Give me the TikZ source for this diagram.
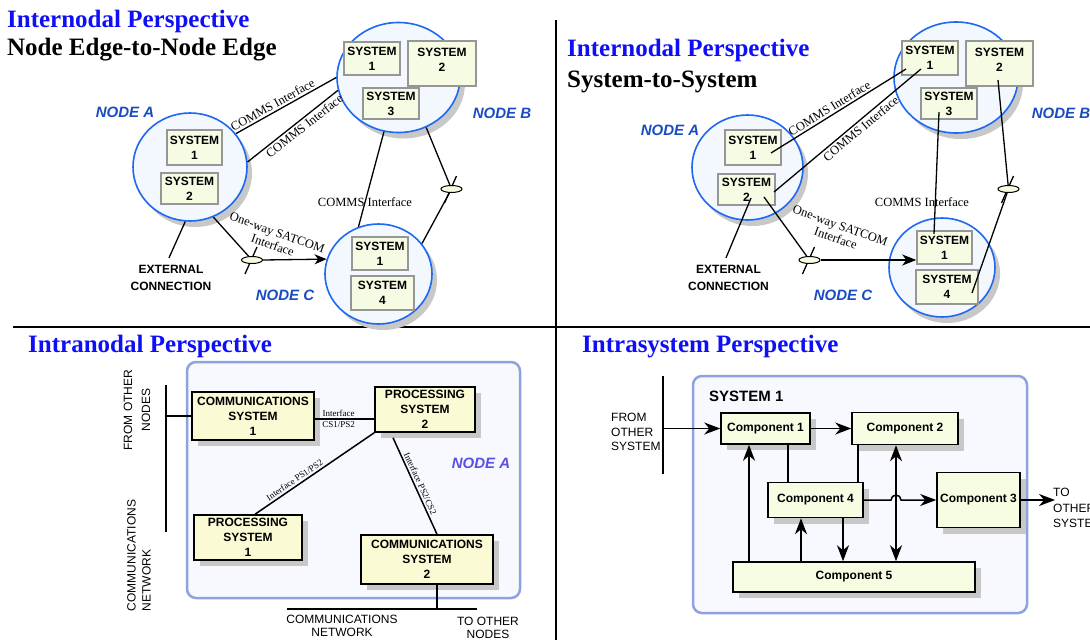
\documentclass[tikz,border=0pt]{standalone}
\usepackage{fontspec}
\setmainfont{Liberation Serif}
\setsansfont{Liberation Sans}
\usetikzlibrary{shapes.geometric,shadows,arrows.meta,calc}
\pgfdeclarelayer{front}
\pgfsetlayers{main,front}
\definecolor{titleblue}{RGB}{15,15,245}
\definecolor{nodeblue}{RGB}{25,75,195}
\definecolor{nodeviolet}{RGB}{90,80,230}
\definecolor{circline}{RGB}{30,105,240}
\definecolor{circfill}{RGB}{243,247,254}
\definecolor{boxline}{RGB}{150,150,150}
\definecolor{boxfill}{RGB}{246,252,228}
\definecolor{ifill}{RGB}{250,250,212}
\definecolor{cfill}{RGB}{245,253,226}
\definecolor{bigline}{RGB}{142,163,222}
\definecolor{bigfill}{RGB}{247,249,254}
\definecolor{symfill}{RGB}{246,250,222}
\definecolor{shade}{RGB}{200,200,200}
\newcommand\myfs[2]{\fontsize{#1}{#2}\selectfont}
\begin{document}
\begin{tikzpicture}[x=1pt,y=-1pt,
  ttl/.style={font=\bfseries\myfs{25}{30}, anchor=base west, inner sep=0},
  nlbl/.style={font=\sffamily\bfseries\itshape\myfs{15}{18}, text=nodeblue, inner sep=0},
  circ/.style={ellipse, draw=circline, line width=1.6pt, fill=circfill, inner sep=0,
     drop shadow={shadow xshift=5pt, shadow yshift=-6pt, fill=shade, opacity=1}},
  sysbox/.style={rectangle, draw=boxline, line width=1.5pt, fill=boxfill, inner sep=0, align=center, font=\sffamily\bfseries\myfs{12}{15}},
  conn/.style={line width=1.3pt},
  conn3/.style={line width=1.5pt},
  lbl/.style={font=\myfs{12.5}{13.5}, inner sep=2pt},
  sym/.style={ellipse, draw, line width=1pt, fill=symfill, minimum width=21pt, minimum height=7pt, inner sep=0},
  arrA/.style={-{Stealth[length=12pt,width=10pt,inset=3.5pt]}},
  arrQ/.style={-{Stealth[length=14pt,width=11pt,inset=4pt]}},
  sans/.style={font=\sffamily\myfs{12}{14.5}, inner sep=0},
  bsans/.style={font=\sffamily\bfseries\myfs{12}{17.5}, inner sep=0, align=center},
  big/.style={rectangle, rounded corners=9pt, draw=bigline, line width=2.5pt, fill=bigfill, inner sep=0},
  ibox/.style={rectangle, draw=black, line width=1.5pt, fill=ifill, inner sep=0, align=center, font=\sffamily\bfseries\myfs{12}{15},
     drop shadow={shadow xshift=6pt, shadow yshift=-6pt, fill=shade, opacity=1}},
  cbox/.style={rectangle, draw=black, line width=1.5pt, fill=cfill, inner sep=0, align=center, font=\sffamily\bfseries\myfs{12}{15},
     drop shadow={shadow xshift=6pt, shadow yshift=-6pt, fill=shade, opacity=1}},
  tiny/.style={font=\myfs{9}{10}, inner sep=2pt},
  arrB/.style={-{Stealth[length=16pt,width=12pt,inset=5pt]}},
  dblB/.style={{Stealth[length=16pt,width=12pt,inset=5pt]}-{Stealth[length=16pt,width=12pt,inset=5pt]}},
  divider/.style={line width=1.5pt}
]
\useasboundingbox (0,0) rectangle (1090,640);
\fill[white] (0,0) rectangle (1090,640);

% dividers
\draw[divider] (556,20) -- (556,640);
\draw[divider] (13,327) -- (1090,327);

% ---------- symbols on front layer ----------
\begin{pgfonlayer}{front}
\node[sym] (e1) at (252,260) {};
\node[sym] (e2) at (451.5,189) {};
\node[sym] (e3) at (809.5,260) {};
\node[sym] (e4) at (1008.5,189) {};
\end{pgfonlayer}
\foreach \e in {e1,e2,e3,e4}
  \draw[conn] ([shift={(5,-13)}]\e.center) -- ([shift={(-7,14)}]\e.center);

% ================= Q1 =================
\node[ttl, text=titleblue] (t1a) at (7,27) {Internodal Perspective};
\node[ttl] (t1b) at (7,55) {Node Edge-to-Node Edge};

\node[circ, minimum width=114, minimum height=108] (nA1) at (190,167) {};
\node[circ, minimum width=123, minimum height=110] (nB1) at (398.5,77.5) {};
\node[circ, minimum width=107, minimum height=100] (nC1) at (378.5,274) {};

\node[sysbox, minimum width=55, minimum height=35] (a1s1) at (194.5,147.5) {SYSTEM\\1};
\node[sysbox, minimum width=57, minimum height=31] (a1s2) at (189.5,188.5) {SYSTEM\\2};
\node[sysbox, minimum width=56, minimum height=33] (b1s1) at (372,58.5) {SYSTEM\\1};
\node[sysbox, minimum width=68, minimum height=45, text depth=7pt] (b1s2) at (442,63.5) {SYSTEM\\2};
\node[sysbox, minimum width=56, minimum height=31] (b1s3) at (391,103.5) {SYSTEM\\3};
\node[sysbox, minimum width=56, minimum height=33] (c1s1) at (380,253.5) {SYSTEM\\1};
\node[sysbox, minimum width=63, minimum height=34] (c1s4) at (382.5,293) {SYSTEM\\4};

\node[nlbl] (lA1) at (125,112) {NODE A};
\node[nlbl] (lB1) at (502,113) {NODE B};
\node[nlbl] (lC1) at (285,295) {NODE C};

\draw[conn] (nA1.36) -- node[lbl, sloped, above, pos=0.4] {COMMS Interface} (nB1.180);
\draw[conn] (nA1.5) -- node[lbl, sloped, below, pos=0.58] {COMMS Interface} (nB1.192);
\draw[conn] (nB1.255) -- (nC1.113);
\node[lbl] (cl1) at (365,202) {COMMS Interface};
\draw[conn] (nB1.299) -- (e2);
\draw[conn] (e2) -- (nC1.35);
\draw[conn] (nA1.295) -- (e1);
\draw[conn, arrA] (e1.east) -- (nC1.164);
\node[lbl, rotate=-19.5, align=center] (sat1) at (275,239) {One-way SATCOM\\Interface};
\node[bsans] (ext1) at (171,278) {EXTERNAL\\CONNECTION};
\draw[conn] (nA1.265) -- ([shift={(-2,-7)}]ext1.north);

% ================= Q2 =================
\node[ttl, text=titleblue] (t2a) at (567,56) {Internodal Perspective};
\node[ttl] (t2b) at (567,87) {System-to-System};

\node[circ, minimum width=111, minimum height=105] (nA2) at (747.5,167.5) {};
\node[circ, minimum width=124, minimum height=111] (nB2) at (956,77.5) {};
\node[circ, minimum width=106, minimum height=99] (nC2) at (942,267.5) {};

\node[sysbox, minimum width=56, minimum height=35] (a2s1) at (753,147.5) {SYSTEM\\1};
\node[sysbox, minimum width=57, minimum height=31] (a2s2) at (746.5,189.5) {SYSTEM\\2};
\node[sysbox, minimum width=56, minimum height=34] (b2s1) at (930,58) {SYSTEM\\1};
\node[sysbox, minimum width=67, minimum height=45, text depth=7pt] (b2s2) at (999.5,63.5) {SYSTEM\\2};
\node[sysbox, minimum width=56, minimum height=31] (b2s3) at (949,103.5) {SYSTEM\\3};
\node[sysbox, minimum width=55, minimum height=33] (c2s1) at (944.5,247.5) {SYSTEM\\1};
\node[sysbox, minimum width=62, minimum height=34] (c2s4) at (947,287) {SYSTEM\\4};

\node[nlbl] (lA2) at (670,130) {NODE A};
\node[nlbl] (lB2) at (1061,113) {NODE B};
\node[nlbl] (lC2) at (843,295) {NODE C};

\draw[conn] ([shift={(18,5.5)}]a2s1.center) -- node[lbl, sloped, above, pos=0.46] {COMMS Interface} ([shift={(-24,11)}]b2s1.center);
\draw[conn] ([shift={(27.5,2.5)}]a2s2.center) -- node[lbl, sloped, below, pos=0.56] {COMMS Interface} ([shift={(-9,11)}]b2s1.center);
\draw[conn] ([shift={(-10,8.5)}]b2s3.center) -- ([shift={(-10.5,-13.5)}]c2s1.center);
\node[lbl] (cl2) at (922,202) {COMMS Interface};
\draw[conn] ([shift={(-1.5,16.5)}]b2s2.center) -- (e4);
\draw[conn] (e4) -- ([shift={(25,6)}]c2s4.center);
\draw[conn] ([shift={(17.5,7.5)}]a2s2.center) -- (e3);
\draw[conn, arrQ] (e3.east) -- (e3.east -| c2s1.west);
\node[lbl, rotate=-19.5, align=center] (sat2) at (838,232) {One-way SATCOM\\Interface};
\node[bsans] (ext2) at (728.5,278) {EXTERNAL\\CONNECTION};
\draw[conn] ([shift={(4.5,8.5)}]a2s2.center) -- ([shift={(-2.5,-7)}]ext2.north);

% ================= Q3 =================
\node[ttl, text=titleblue] (t3) at (28,352) {Intranodal Perspective};
\node[big, minimum width=333, minimum height=236] (bigA) at (353.5,480) {};

\node[ibox, minimum width=122, minimum height=48] (cs1) at (253,416) {COMMUNICATIONS\\SYSTEM\\1};
\node[ibox, minimum width=100, minimum height=45] (ps2) at (425,409.5) {PROCESSING\\SYSTEM\\2};
\node[ibox, minimum width=108, minimum height=45] (ps1) at (248,537.5) {PROCESSING\\SYSTEM\\1};
\node[ibox, minimum width=132, minimum height=49] (cs2) at (427,559.5) {COMMUNICATIONS\\SYSTEM\\2};
\node[nlbl, text=nodeviolet] (lA3) at (481,463) {NODE A};

\draw[conn3] ([yshift=-3pt]cs1.east) -- node[tiny, above, pos=0.4] {Interface} node[tiny, below, pos=0.4] {CS1/PS2} ([yshift=-3pt]cs1.east -| ps2.west);
\draw[conn3] ([xshift=7pt]ps1.north) -- node[tiny, sloped, above, pos=0.36] {Interface PS1/PS2} (ps2.south west);
\draw[conn3] ([shift={(-32,5)}]ps2.south) -- node[tiny, sloped, above, pos=0.5] {Interface PS2/CS2} ([shift={(10,0)}]cs2.north);

\coordinate (bus3t) at (166,385);
\coordinate (bus3b) at (166,532);
\draw[conn3] (bus3t) -- (bus3b);
\draw[conn3] (cs1.west -| bus3t) -- (cs1.west);
\node[sans, rotate=90, align=center, font=\sffamily\myfs{12}{18}] (fon) at (137,410) {FROM OTHER\\NODES};
\node[sans, rotate=90, align=left, font=\sffamily\myfs{12}{15}] (cnet) at (139,555.5) {COMMUNICATIONS\\NETWORK};

\coordinate (net3l) at (287,609);
\coordinate (net3r) at (477,609);
\draw[conn3] (net3l) -- (net3r);
\draw[conn3] ([xshift=10pt]cs2.south) -- ([xshift=10pt]cs2.south |- net3l);
\node[sans, align=center, font=\sffamily\myfs{12}{13}] (cnet2) at (342,626) {COMMUNICATIONS\\NETWORK};
\node[sans, align=center, font=\sffamily\myfs{12}{13}] (ton) at (488,628) {TO OTHER\\NODES};

% ================= Q4 =================
\node[ttl, text=titleblue] (t4) at (582,352) {Intrasystem Perspective};
\node[big, minimum width=334, minimum height=237] (sys1) at (860,494.5) {};
\node[font=\sffamily\bfseries\myfs{15}{18}, anchor=base west, inner sep=0] (sys1t) at (709,401) {SYSTEM 1};

\node[cbox, minimum width=89, minimum height=31] (c1) at (765.5,428.5) {Component 1};
\node[cbox, minimum width=106, minimum height=32] (c2) at (905,428.5) {Component 2};
\node[cbox, minimum width=95, minimum height=35] (c4) at (815.5,500) {Component 4};
\node[cbox, minimum width=83, minimum height=55] (c3) at (978.5,500) {Component 3};
\node[cbox, minimum width=242, minimum height=30] (c5) at (854,577) {Component 5};

\coordinate (bus4t) at (663,376);
\coordinate (bus4b) at (663,474);
\draw[conn3] (bus4t) -- (bus4b);
\node[sans, align=left, anchor=west] (fos) at (611,432) {FROM\\OTHER\\SYSTEM};
\draw[conn3, arrB] (c1.west -| bus4t) -- (c1.west);
\draw[conn3, arrB] (c1.east) -- (c2.west);
\draw[conn3] ([xshift=22.5pt]c1.south) -- ([xshift=22.5pt]c1.south |- c4.north);
\draw[conn3] ([xshift=-47pt]c2.south) -- ([xshift=-47pt]c2.south |- c4.north);
\draw[conn3, arrB] ([xshift=-105pt]c5.north) -- ([xshift=-105pt]c5.north |- c1.south);
\draw[conn3, arrB] ([xshift=-53pt]c5.north) -- ([xshift=-53pt]c5.north |- c4.south);
\draw[conn3, arrB] ([xshift=27.5pt]c4.south) -- ([xshift=27.5pt]c4.south |- c5.north);
\path ([xshift=-9pt]c2.south) coordinate (vx);
\draw[conn3, dblB] (vx) -- (vx |- c5.north);
\coordinate (hop) at (vx |- c4.east);
\draw[conn3, arrB] (c4.east) -- ([xshift=-5pt]hop) arc[start angle=180, end angle=0, radius=5pt] -- (c3.west);
\coordinate (out4) at (1055,500);
\draw[conn3, arrB] (c3.east) -- (out4);
\node[sans, align=left, anchor=west, font=\sffamily\myfs{12}{15.5}] (tos) at (1053,508) {TO\\OTHER\\SYSTEM};
\end{tikzpicture}
\end{document}
